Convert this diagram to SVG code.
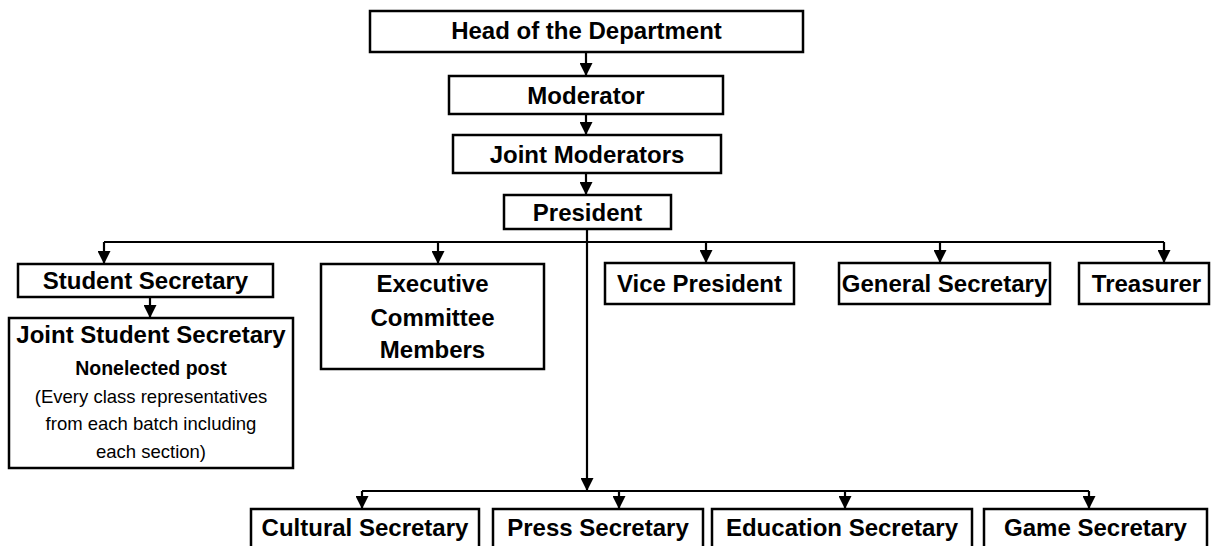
<svg xmlns="http://www.w3.org/2000/svg" width="1212" height="546" viewBox="0 0 1212 546">
<style>
.box{fill:#fff;stroke:#000;stroke-width:2.5}
.t{font-family:"Liberation Sans",Arial,sans-serif;font-weight:bold;font-size:24px;text-anchor:middle;fill:#000}
.s{font-family:"Liberation Sans",Arial,sans-serif;font-weight:bold;font-size:19.5px;text-anchor:middle;fill:#000}
.r{font-family:"Liberation Sans",Arial,sans-serif;font-size:18.5px;text-anchor:middle;fill:#000}
.c{fill:none;stroke:#000;stroke-width:2.2}
.a{marker-end:url(#ah)}
</style>
<defs>
<marker id="ah" viewBox="0 0 12 12" refX="12" refY="6" markerWidth="13" markerHeight="13" markerUnits="userSpaceOnUse" orient="auto"><path d="M0,0 L12,6 L0,12 z" fill="#000"/></marker>
</defs>
<rect width="1212" height="546" fill="#fff"/>
<g id="connectors">
<path class="c a" d="M586,52 V76"/>
<path class="c a" d="M586,114 V135"/>
<path class="c a" d="M586,173 V195"/>
<path class="c a" d="M587,229 V491"/>
<path class="c" d="M104,242 H1164"/>
<path class="c a" d="M104,242 V264"/>
<path class="c a" d="M438,242 V264"/>
<path class="c a" d="M706,242 V263"/>
<path class="c a" d="M940,242 V263"/>
<path class="c a" d="M1164,242 V263"/>
<path class="c a" d="M150,297 V318"/>
<path class="c" d="M362,491 H1089"/>
<path class="c a" d="M362,491 V509"/>
<path class="c a" d="M619,491 V509"/>
<path class="c a" d="M845,491 V509"/>
<path class="c a" d="M1089,491 V509"/>
</g>
<g id="head"><rect class="box" x="370" y="11" width="433" height="41"/><text class="t" x="586.5" y="39">Head of the Department</text></g>
<g id="moderator"><rect class="box" x="449" y="76" width="274" height="38"/><text class="t" x="586" y="104">Moderator</text></g>
<g id="joint-moderators"><rect class="box" x="453" y="135" width="268" height="38"/><text class="t" x="587" y="163">Joint Moderators</text></g>
<g id="president"><rect class="box" x="504" y="195" width="167" height="34"/><text class="t" x="587.5" y="221">President</text></g>
<g id="student-secretary"><rect class="box" x="18" y="264" width="255" height="33"/><text class="t" x="145.5" y="289">Student Secretary</text></g>
<g id="joint-student-secretary"><rect class="box" x="9" y="318" width="284" height="150"/>
<text class="t" x="151" y="343">Joint Student Secretary</text>
<text class="s" x="151" y="375">Nonelected post</text>
<text class="r" x="151" y="403">(Every class representatives</text>
<text class="r" x="151" y="430">from each batch including</text>
<text class="r" x="151" y="458">each section)</text></g>
<g id="executive-committee"><rect class="box" x="321" y="264" width="223" height="105"/>
<text class="t" x="432.5" y="292">Executive</text>
<text class="t" x="432.5" y="326">Committee</text>
<text class="t" x="432.5" y="358">Members</text></g>
<g id="vice-president"><rect class="box" x="605" y="263" width="189" height="41"/><text class="t" x="699.5" y="292">Vice President</text></g>
<g id="general-secretary"><rect class="box" x="839" y="263" width="211" height="41"/><text class="t" x="944.5" y="292">General Secretary</text></g>
<g id="treasurer"><rect class="box" x="1079" y="263" width="130" height="41"/><text class="t" x="1146.5" y="292">Treasurer</text></g>
<g id="cultural-secretary"><rect class="box" x="251" y="509" width="228" height="50"/><text class="t" x="365" y="536">Cultural Secretary</text></g>
<g id="press-secretary"><rect class="box" x="493" y="509" width="210" height="50"/><text class="t" x="598" y="536">Press Secretary</text></g>
<g id="education-secretary"><rect class="box" x="712" y="509" width="260" height="50"/><text class="t" x="842" y="536">Education Secretary</text></g>
<g id="game-secretary"><rect class="box" x="984" y="509" width="223" height="50"/><text class="t" x="1095.5" y="536">Game Secretary</text></g>
</svg>
